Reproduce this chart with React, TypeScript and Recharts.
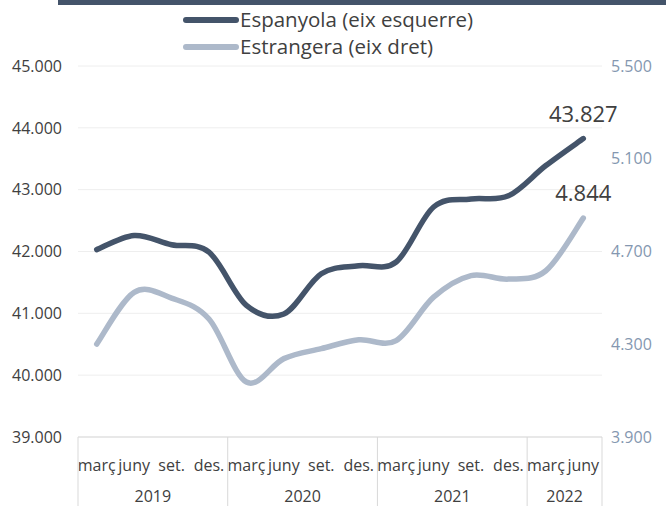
import React from 'react';
import { LineChart, Line, XAxis, YAxis, CartesianGrid, Legend, LabelList } from 'recharts';

// ---- data ----
const months = ['març', 'juny', 'set.', 'des.', 'març', 'juny', 'set.', 'des.', 'març', 'juny', 'set.', 'des.', 'març', 'juny'];
const years = ['2019', '2019', '2019', '2019', '2020', '2020', '2020', '2020', '2021', '2021', '2021', '2021', '2022', '2022'];
const espanyola = [42030, 42260, 42110, 41990, 41130, 40990, 41640, 41770, 41830, 42720, 42850, 42900, 43390, 43827];
const estrangera = [4301, 4524, 4499, 4409, 4137, 4238, 4281, 4319, 4316, 4503, 4596, 4581, 4617, 4844];
const leftTicks = [39000, 40000, 41000, 42000, 43000, 44000, 45000];
const rightTicks = [3900, 4300, 4700, 5100, 5500];
const seriesNames = ['Espanyola (eix esquerre)', 'Estrangera (eix dret)'];

const data = months.map((m, i) => ({
  key: String(i),
  month: m,
  year: years[i],
  esp: espanyola[i],
  est: estrangera[i],
}));

// ---- layout ----
const W = 666;
const H = 506;
const PLOT_LEFT = 78;
const PLOT_RIGHT = 602;
const N = months.length;
const HALF = (PLOT_RIGHT - PLOT_LEFT) / (2 * N);

const DARK = '#44546a';
const LIGHT = '#adb9ca';
const TEXT = '#404040';
const RIGHT_TEXT = '#8497b0';
const FONT = 'Open Sans';

const fmt = (v: number) => Math.round(v).toString().replace(/\B(?=(\d{3})+(?!\d))/g, '.');

// Excel-like smoothed curve (Catmull-Rom bezier)
const excelCurve = (context: any) => {
  let pts: [number, number][] = [];
  return {
    areaStart() {},
    areaEnd() {},
    lineStart() {
      pts = [];
    },
    point(x: number, y: number) {
      pts.push([+x, +y]);
    },
    lineEnd() {
      if (!pts.length) return;
      context.moveTo(pts[0][0], pts[0][1]);
      for (let i = 0; i < pts.length - 1; i++) {
        const p0 = pts[Math.max(0, i - 1)];
        const p1 = pts[i];
        const p2 = pts[i + 1];
        const p3 = pts[Math.min(pts.length - 1, i + 2)];
        const c1x = p1[0] + (p2[0] - p0[0]) / 6;
        const c1y = p1[1] + (p2[1] - p0[1]) / 6;
        const c2x = p2[0] - (p3[0] - p1[0]) / 6;
        const c2y = p2[1] - (p3[1] - p1[1]) / 6;
        context.bezierCurveTo(c1x, c1y, c2x, c2y, p2[0], p2[1]);
      }
    },
  };
};

const CategoryTick = (props: any) => {
  const { x, y, payload } = props;
  const i: number = props.index ?? payload.index;
  const isGroupStart = i === 0 || years[i] !== years[i - 1];
  const isLast = i === N - 1;
  const groupSize = years.filter((yy) => yy === years[i]).length;
  return (
    <g>
      <text
        x={x}
        y={y + 28}
        textAnchor="middle"
        dominantBaseline="central"
        fontSize={16}
        fontFamily={FONT}
        fill={TEXT}
      >
        {months[i]}
      </text>
      {isGroupStart && (
        <>
          <line x1={x - HALF} x2={x - HALF} y1={y} y2={H} stroke="#d9d9d9" strokeWidth={1} />
          <text
            x={x - HALF + groupSize * HALF}
            y={y + 59}
            textAnchor="middle"
            dominantBaseline="central"
            fontSize={16}
            fontFamily={FONT}
            fill={TEXT}
          >
            {years[i]}
          </text>
        </>
      )}
      {isLast && <line x1={x + HALF} x2={x + HALF} y1={y} y2={H} stroke="#d9d9d9" strokeWidth={1} />}
    </g>
  );
};

const lastLabel = (props: any) => {
  const { x, y, index, value } = props;
  if (index !== N - 1) return <g />;
  return (
    <text
      x={x}
      y={y - 26}
      textAnchor="middle"
      dominantBaseline="central"
      fontSize={22}
      fontFamily={FONT}
      fill={TEXT}
    >
      {fmt(value)}
    </text>
  );
};

const renderLegend = () => (
  <div style={{ fontFamily: FONT, color: TEXT, fontSize: 20.5 }}>
    {[DARK, LIGHT].map((c, k) => (
      <div key={k} style={{ display: 'flex', alignItems: 'center', height: 27 }}>
        <svg width={56} height={10} style={{ display: 'block' }}>
          <line x1={3} x2={53} y1={5} y2={5} stroke={c} strokeWidth={6} strokeLinecap="round" />
        </svg>
        <span style={{ marginLeft: 1, lineHeight: '27px', whiteSpace: 'nowrap' }}>{seriesNames[k]}</span>
      </div>
    ))}
  </div>
);

export default function App() {
  return (
    <div style={{ position: 'absolute', left: 0, top: 0, width: W, height: H, background: '#fff' }}>
      <div style={{ position: 'absolute', left: 58, top: 0, width: W - 58, height: 5, background: DARK }} />
      <LineChart
        width={W}
        height={H}
        data={data}
        margin={{ top: 66, right: 6, bottom: 0, left: 8 }}
        style={{ fontFamily: FONT }}
      >
        <CartesianGrid vertical={false} stroke="#eeeeee" strokeWidth={1} />
        <XAxis
          dataKey="key"
          height={69}
          interval={0}
          tickLine={false}
          tickSize={0}
          tickMargin={0}
          axisLine={{ stroke: '#d9d9d9' }}
          padding={{ left: HALF, right: HALF }}
          tick={<CategoryTick />}
        />
        <YAxis
          width={70}
          domain={[39000, 45000]}
          ticks={leftTicks}
          allowDataOverflow
          tickFormatter={fmt}
          axisLine={false}
          tickLine={false}
          tickSize={0}
          tickMargin={16}
          tick={{ fontSize: 16, fill: TEXT, fontFamily: FONT }}
        />
        <YAxis
          yAxisId="right"
          orientation="right"
          width={58}
          domain={[3900, 5500]}
          ticks={rightTicks}
          allowDataOverflow
          tickFormatter={fmt}
          axisLine={false}
          tickLine={false}
          tickSize={0}
          tickMargin={9}
          tick={{ fontSize: 16, fill: RIGHT_TEXT, fontFamily: FONT }}
        />
        <Legend
          layout="vertical"
          align="center"
          verticalAlign="middle"
          content={renderLegend}
          wrapperStyle={{ position: 'absolute', top: 6, left: 183, width: 360 }}
        />
        <Line
          dataKey="esp"
          name={seriesNames[0]}
          type={excelCurve as any}
          stroke={DARK}
          strokeWidth={5.5}
          strokeLinecap="round"
          dot={false}
          activeDot={false}
          isAnimationActive={false}
        >
          <LabelList dataKey="esp" content={lastLabel} />
        </Line>
        <Line
          dataKey="est"
          yAxisId="right"
          name={seriesNames[1]}
          type={excelCurve as any}
          stroke={LIGHT}
          strokeWidth={5.5}
          strokeLinecap="round"
          dot={false}
          activeDot={false}
          isAnimationActive={false}
        >
          <LabelList dataKey="est" content={lastLabel} />
        </Line>
      </LineChart>
    </div>
  );
}
